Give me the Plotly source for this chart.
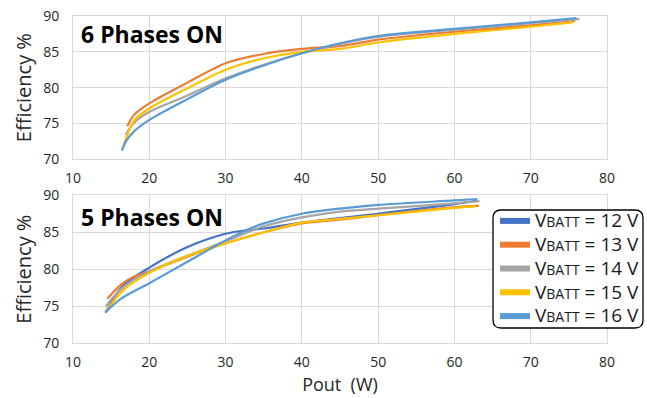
import plotly.graph_objects as go

# ---- data ----
labels = ["12 V", "13 V", "14 V", "15 V", "16 V"]
colors = ["#4472C4", "#ED7D31", "#A5A5A5", "#FFC000", "#5B9BD5"]

# 6 phases ON (top panel); 12 V not visible
p6_x_13 = [17.1, 18, 20, 25, 30, 35, 40, 45, 50, 60, 70, 75.8]
p6_y_13 = [74.6, 76.2, 77.8, 80.7, 83.4, 84.7, 85.4, 85.8, 86.7, 87.8, 88.7, 89.3]
p6_x_14 = [16.9, 18, 20, 25, 30, 35, 40, 45, 50, 60, 70, 76.4]
p6_y_14 = [73.4, 75.1, 76.6, 78.9, 81.3, 83.2, 84.8, 86.1, 87.1, 88.1, 89.0, 89.6]
p6_x_15 = [16.5, 18, 20, 25, 30, 35, 40, 45, 50, 60, 70, 75.5]
p6_y_15 = [71.5, 75.4, 77.1, 79.9, 82.5, 84.1, 85.0, 85.4, 86.3, 87.5, 88.5, 89.1]
p6_x_16 = [16.4, 17, 18, 20, 25, 30, 35, 40, 45, 50, 60, 70, 76]
p6_y_16 = [71.2, 72.6, 73.9, 75.5, 78.4, 81.1, 83.1, 84.8, 86.2, 87.2, 88.2, 89.1, 89.7]

# 5 phases ON (bottom panel)
p5_x_12 = [14.3, 16.5, 20, 25, 30, 33, 35, 40, 45, 50, 60, 63]
p5_y_12 = [74.2, 77.7, 80.2, 83.0, 84.8, 85.3, 85.5, 86.3, 86.9, 87.5, 88.8, 89.3]
p5_x_13 = [14.5, 16.3, 18, 20, 25, 30, 35, 40, 45, 50, 60, 63.2]
p5_y_13 = [76.0, 77.9, 79.0, 79.7, 81.7, 83.5, 85.0, 86.2, 86.7, 87.3, 88.4, 88.6]
p5_x_14 = [14.3, 16.5, 20, 25, 30, 35, 40, 45, 50, 60, 63.3]
p5_y_14 = [75.0, 77.5, 79.7, 81.8, 83.8, 85.8, 87.0, 87.8, 88.2, 88.9, 89.2]
p5_x_15 = [14.3, 16.5, 20, 25, 30, 35, 40, 45, 50, 60, 62.8]
p5_y_15 = [74.2, 77.1, 79.5, 81.8, 83.5, 85.0, 86.3, 86.8, 87.3, 88.3, 88.5]
p5_x_16 = [14.2, 16.3, 20, 25, 30, 33, 35, 40, 45, 50, 60, 63]
p5_y_16 = [74.1, 76.0, 78.1, 81.0, 83.9, 85.4, 86.2, 87.5, 88.2, 88.7, 89.3, 89.5]

x_ticks = [10, 20, 30, 40, 50, 60, 70, 80]
y_ticks = [70, 75, 80, 85, 90]

FONT = "Open Sans"
fig = go.Figure()

top = {"14 V": (p6_x_14, p6_y_14), "13 V": (p6_x_13, p6_y_13),
       "15 V": (p6_x_15, p6_y_15), "16 V": (p6_x_16, p6_y_16)}
for lab, col in zip(labels, colors):
    if lab in top:
        xs, ys = top[lab]
        fig.add_trace(go.Scatter(x=xs, y=ys, mode="lines", line=dict(color=col, width=2.2, shape="spline", smoothing=0.8),
                                 showlegend=False, xaxis="x", yaxis="y"))

bottom = [(p5_x_12, p5_y_12), (p5_x_13, p5_y_13), (p5_x_14, p5_y_14), (p5_x_15, p5_y_15), (p5_x_16, p5_y_16)]
for (xs, ys), col in zip(bottom, colors):
    fig.add_trace(go.Scatter(x=xs, y=ys, mode="lines", line=dict(color=col, width=2.2, shape="spline", smoothing=0.8),
                             showlegend=False, xaxis="x2", yaxis="y2"))

# legend entries
for lab, col in zip(labels, colors):
    fig.add_trace(go.Scatter(x=[None], y=[None], mode="lines", line=dict(color=col, width=6),
                             name="<span style='font-size:19px'>V</span><span style='font-size:14px'>BATT</span>"
                                  "<span style='font-size:19px'> = " + lab + "</span>",
                             xaxis="x2", yaxis="y2"))

axis_common = dict(range=[10, 80], tickvals=x_ticks, showgrid=True, gridcolor="#D9D9D9", gridwidth=1,
                   showline=True, linecolor="#D9D9D9", mirror=True, zeroline=False, automargin=False,
                   ticks="outside", ticklen=6, tickcolor="rgba(0,0,0,0)",
                   tickfont=dict(family=FONT, size=14, color="#262626"))
yaxis_common = dict(range=[70, 90], tickvals=y_ticks, showgrid=True, gridcolor="#D9D9D9", gridwidth=1,
                    showline=True, linecolor="#D9D9D9", mirror=True, zeroline=False, automargin=False,
                    ticks="outside", ticklen=10, tickcolor="rgba(0,0,0,0)",
                    tickfont=dict(family=FONT, size=14, color="#262626"),
                    title=dict(text="Efficiency %", font=dict(family=FONT, size=20, color="#262626"), standoff=6))

W, Hf = 647, 398
T, B = 16, 55
H = Hf - T - B
fig.update_layout(
    width=W, height=Hf,
    margin=dict(l=73, r=40, t=T, b=B, autoexpand=False),
    paper_bgcolor="white", plot_bgcolor="white",
    xaxis=dict(domain=[0, 1], anchor="y", **axis_common),
    yaxis=dict(domain=[(343 - 159.3) / H, 1], anchor="x", **yaxis_common),
    xaxis2=dict(domain=[0, 1], anchor="y2",
                title=dict(text="Pout  (W)", font=dict(family=FONT, size=18, color="#262626"), standoff=8),
                **axis_common),
    yaxis2=dict(domain=[0, (343 - 195.3) / H], anchor="x2", **yaxis_common),
    legend=dict(x=495 / W, y=1 - 204 / Hf, xref="container", yref="container", xanchor="left", yanchor="top",
                bgcolor="rgba(0,0,0,0)", borderwidth=0,
                font=dict(family=FONT, size=16, color="#1a1a1a"), tracegroupgap=0, itemwidth=30),
    annotations=[
        dict(text="<b>6 Phases ON</b>", xref="x domain", yref="y domain", x=0.012, y=(159.3 - 34) / 143.3,
             xanchor="left", yanchor="middle", showarrow=False, font=dict(family=FONT, size=23, color="black")),
        dict(text="<b>5 Phases ON</b>", xref="x2 domain", yref="y2 domain", x=0.012, y=(343 - 217) / 147.7,
             xanchor="left", yanchor="middle", showarrow=False, font=dict(family=FONT, size=23, color="black")),
    ],
)

# rounded legend frame
x0, x1 = (493 - 73) / 534, (643 - 73) / 534
y1, y0 = (343 - 210) / H, (343 - 328) / H
rx, ry = 8 / 534, 8 / H
path = (f"M {x0+rx},{y1} L {x1-rx},{y1} Q {x1},{y1} {x1},{y1-ry} L {x1},{y0+ry} Q {x1},{y0} {x1-rx},{y0} "
        f"L {x0+rx},{y0} Q {x0},{y0} {x0},{y0+ry} L {x0},{y1-ry} Q {x0},{y1} {x0+rx},{y1} Z")
fig.add_shape(type="path", path=path, xref="paper", yref="paper", line=dict(color="black", width=1.3),
              fillcolor="white", layer="above")

fig.write_html("out.html")
